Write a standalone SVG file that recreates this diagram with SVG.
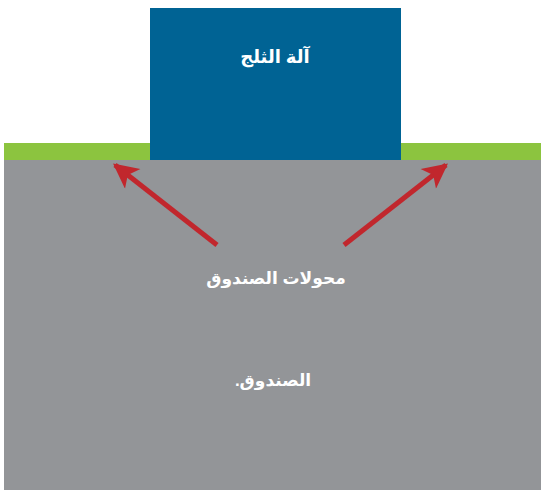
<svg xmlns="http://www.w3.org/2000/svg" width="542" height="491" viewBox="0 0 542 491">
<style>
.lbl{font-family:"Liberation Sans","DejaVu Sans",Arial,sans-serif;font-weight:bold;fill:#ffffff;text-anchor:middle}
.arr{stroke:#c1272d;stroke-width:5;fill:none;marker-end:url(#ah)}
</style>
<defs>
<marker id="ah" viewBox="0 0 10 10" refX="9" refY="5" markerWidth="5.5" markerHeight="5" orient="auto" markerUnits="strokeWidth">
<path d="M0,0 L10,5 L0,10 L2.5,5 Z" fill="#c1272d"/>
</marker>
</defs>
<rect width="542" height="491" fill="#ffffff"/>
<g id="box">
<rect x="4" y="160" width="537" height="330" fill="#939598"/>
<text class="lbl" x="273" y="386" font-size="17" direction="rtl">الصندوق.</text>
</g>
<g id="sensors">
<rect x="4" y="143" width="537" height="17" fill="#8cc43f"/>
</g>
<g id="machine">
<rect x="150" y="8" width="251" height="152" fill="#006394"/>
<text class="lbl" x="275" y="63" font-size="18" direction="rtl">آلة الثلج</text>
</g>
<g id="label">
<text class="lbl" x="276" y="284" font-size="17" direction="rtl">محولات الصندوق</text>
</g>
<g id="connectors">
<line class="arr" x1="217" y1="245" x2="115" y2="165"/>
<line class="arr" x1="344" y1="245" x2="446" y2="165"/>
</g>
</svg>
